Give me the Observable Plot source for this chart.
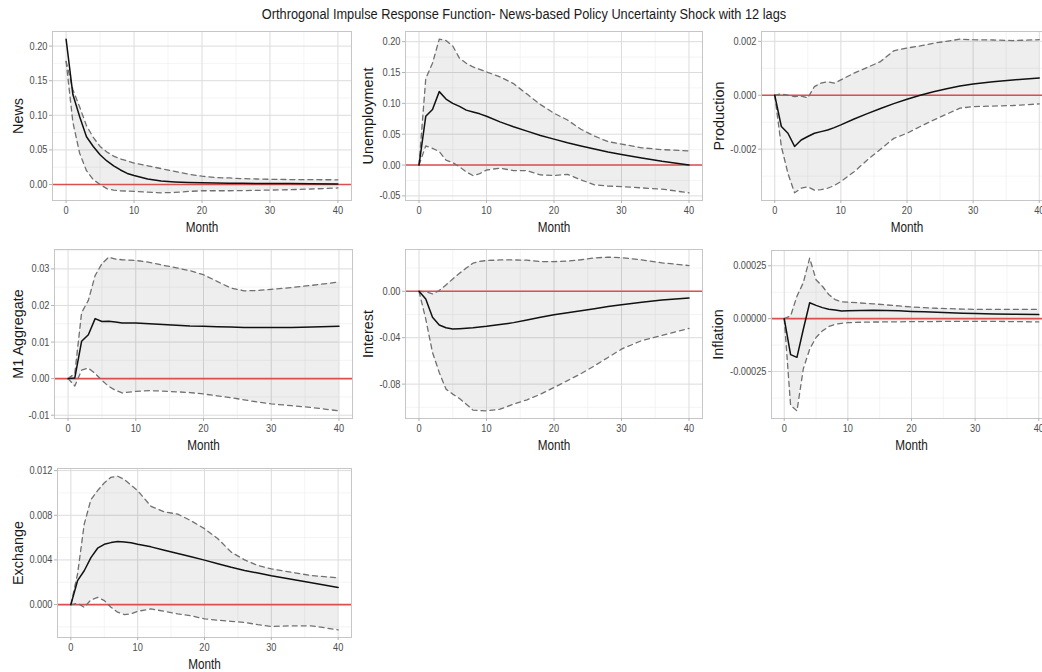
<!DOCTYPE html>
<html>
<head>
<meta charset="utf-8">
<script src="https://cdn.jsdelivr.net/npm/d3@7"></script>
<script src="https://cdn.jsdelivr.net/npm/@observablehq/plot@0.6"></script>
<style>
  html, body { margin: 0; padding: 0; background: #fff; }
  #fig { position: relative; width: 1042px; height: 672px; overflow: hidden; background: #fff; }
  #title {
    position: absolute; left: 3px; top: 6px; width: 1042px; text-align: center;
    font-family: "Liberation Sans", Arial, sans-serif;
    font-size: 14px; color: #1a1a1a; white-space: nowrap;
    transform: scaleX(0.913); transform-origin: 50% 50%;
  }
  .panel { position: absolute; }
</style>
</head>
<body>
<div id="fig">
  <div id="title">Orthrogonal Impulse Response Function- News-based Policy Uncertainty Shock with 12 lags</div>
</div>
<script>
// Forecast horizon (months after the shock)
const months = [0, 1, 2, 3, 4, 5, 6, 7, 8, 9, 10, 12, 14, 16, 18, 20, 22, 24, 26, 28, 30, 33, 36, 40];

// News
const newsMean  = [0.21, 0.13, 0.098, 0.069, 0.055, 0.043, 0.034, 0.027, 0.021, 0.016, 0.013, 0.008, 0.005, 0.0038, 0.003, 0.0025, 0.0022, 0.002, 0.0018, 0.0016, 0.0015, 0.0013, 0.0011, 0.0009];
const newsUpper = [0.178, 0.137, 0.112, 0.085, 0.068, 0.055, 0.047, 0.041, 0.037, 0.034, 0.031, 0.027, 0.023, 0.019, 0.015, 0.012, 0.010, 0.0095, 0.0085, 0.008, 0.0075, 0.0072, 0.007, 0.0068];
const newsLower = [0.178, 0.09, 0.045, 0.02, 0.007, 0.0, -0.006, -0.008, -0.009, -0.0095, -0.010, -0.011, -0.012, -0.0115, -0.010, -0.009, -0.009, -0.009, -0.0088, -0.0085, -0.008, -0.0075, -0.0065, -0.005];

// Unemployment
const unempMean  = [0, 0.079, 0.090, 0.119, 0.107, 0.100, 0.095, 0.089, 0.086, 0.083, 0.079, 0.070, 0.062, 0.055, 0.048, 0.042, 0.036, 0.031, 0.026, 0.021, 0.017, 0.0115, 0.006, 0];
const unempUpper = [0, 0.14, 0.165, 0.204, 0.202, 0.193, 0.173, 0.165, 0.159, 0.155, 0.151, 0.143, 0.132, 0.115, 0.098, 0.084, 0.073, 0.058, 0.047, 0.038, 0.034, 0.028, 0.025, 0.023];
const unempLower = [0, 0.031, 0.027, 0.022, 0.008, 0.004, -0.003, -0.011, -0.017, -0.014, -0.008, -0.005, -0.009, -0.009, -0.016, -0.017, -0.015, -0.024, -0.032, -0.034, -0.035, -0.037, -0.039, -0.045];

// Production
const prodMean  = [0, -0.00116, -0.00141, -0.0019, -0.00166, -0.00153, -0.00141, -0.00135, -0.00129, -0.0012, -0.0011, -0.00088, -0.00068, -0.00049, -0.00031, -0.00015, 0.0, 0.00013, 0.00024, 0.00034, 0.00042, 0.0005, 0.00057, 0.00064];
const prodUpper = [0, 0.00005, 0.0, -0.00005, -0.00003, -0.0001, 0.00032, 0.00045, 0.0005, 0.00045, 0.00057, 0.00082, 0.00103, 0.00125, 0.00165, 0.00175, 0.00183, 0.00193, 0.002, 0.00208, 0.00206, 0.00205, 0.00203, 0.00206];
const prodLower = [0, -0.0019, -0.0029, -0.00362, -0.00345, -0.0034, -0.00352, -0.0035, -0.00345, -0.00335, -0.0032, -0.00284, -0.0024, -0.002, -0.0016, -0.00141, -0.00116, -0.00092, -0.0007, -0.00048, -0.00042, -0.0004, -0.00038, -0.00032];

// M1 Aggregate
const m1Mean  = [0, 0.0002, 0.0102, 0.012, 0.0164, 0.0156, 0.0157, 0.0155, 0.0152, 0.0152, 0.0152, 0.015, 0.0148, 0.0146, 0.0144, 0.0143, 0.0142, 0.0141, 0.014, 0.014, 0.014, 0.014, 0.0141, 0.0143];
const m1Upper = [0, 0.0014, 0.018, 0.0214, 0.0282, 0.0314, 0.0332, 0.0327, 0.0325, 0.0324, 0.0323, 0.0318, 0.031, 0.0303, 0.0295, 0.0284, 0.0266, 0.0248, 0.024, 0.0241, 0.0244, 0.0249, 0.0255, 0.0264];
const m1Lower = [0, -0.002, 0.0023, 0.0029, 0.0014, -0.0005, -0.0021, -0.0032, -0.0039, -0.0037, -0.0035, -0.0033, -0.0034, -0.0036, -0.0038, -0.0042, -0.0047, -0.0052, -0.0058, -0.0064, -0.0069, -0.0074, -0.0079, -0.0088];

// Interest
const rateMean  = [0, -0.0066, -0.0224, -0.029, -0.0314, -0.0325, -0.0322, -0.0318, -0.0314, -0.0308, -0.0302, -0.0287, -0.027, -0.0247, -0.0224, -0.0203, -0.0184, -0.0167, -0.015, -0.0132, -0.0115, -0.0094, -0.0076, -0.0058];
const rateUpper = [0, -0.0003, -0.0023, 0.0006, 0.0055, 0.0106, 0.0155, 0.02, 0.0242, 0.0258, 0.0265, 0.027, 0.027, 0.0268, 0.0256, 0.0256, 0.026, 0.0272, 0.0288, 0.0294, 0.029, 0.027, 0.0245, 0.0222];
const rateLower = [0, -0.0239, -0.0527, -0.07, -0.0843, -0.0886, -0.0924, -0.0973, -0.1024, -0.1028, -0.103, -0.1016, -0.0973, -0.0935, -0.0887, -0.0829, -0.077, -0.071, -0.0642, -0.057, -0.0498, -0.0425, -0.038, -0.0319];

// Inflation
const inflMean  = [0, -0.00017, -0.000183, -0.00005, 0.000075, 0.0000625, 0.000052, 0.000044, 0.000041, 0.000036, 0.0000375, 0.000039, 0.00004, 0.000039, 0.000037, 0.000034, 0.000032, 0.00003, 0.000028, 0.000026, 0.000024, 0.000022, 0.000021, 0.000019];
const inflUpper = [0, 0.0000125, 0.000106, 0.00017, 0.000286, 0.000184, 0.000153, 0.000114, 0.00009, 0.00008, 0.000078, 0.000074, 0.00007, 0.000065, 0.00006, 0.000055, 0.000052, 0.000049, 0.000047, 0.000045, 0.000044, 0.000044, 0.000044, 0.000044];
const inflLower = [0, -0.00041, -0.000436, -0.000237, -0.000144, -0.000089, -0.000058, -0.0000375, -0.0000266, -0.000022, -0.000019, -0.000017, -0.000016, -0.0000155, -0.000015, -0.000014, -0.000014, -0.0000135, -0.000013, -0.000013, -0.0000125, -0.000013, -0.000014, -0.0000156];

// Exchange
const fxMean  = [0, 0.00214, 0.00303, 0.0042, 0.00505, 0.0054, 0.00555, 0.00564, 0.00561, 0.00553, 0.0054, 0.00517, 0.00487, 0.00458, 0.00428, 0.00398, 0.00366, 0.00334, 0.00306, 0.00282, 0.00258, 0.00227, 0.00196, 0.00154];
const fxUpper = [0, 0.00273, 0.0072, 0.0094, 0.0102, 0.0109, 0.0114, 0.0115, 0.0112, 0.0107, 0.0102, 0.0088, 0.0083, 0.0081, 0.0075, 0.0068, 0.0059, 0.0047, 0.004, 0.0035, 0.0032, 0.0029, 0.0026, 0.0024];
const fxLower = [0, 0.00012, -0.00024, 0.00042, 0.00065, 0.00036, -0.00024, -0.00068, -0.00089, -0.00083, -0.0006, -0.00039, -0.0006, -0.00083, -0.001, -0.00128, -0.0014, -0.0015, -0.0016, -0.0018, -0.00196, -0.0019, -0.0019, -0.00226];

// Axis tick labels
const xTicks = [0, 10, 20, 30, 40];
const newsTicks  = [0, 0.05, 0.10, 0.15, 0.20];
const unempTicks = [-0.05, 0, 0.05, 0.10, 0.15, 0.20];
const prodTicks  = [-0.002, 0, 0.002];
const m1Ticks    = [-0.01, 0, 0.01, 0.02, 0.03];
const rateTicks  = [-0.08, -0.04, 0];
const inflTicks  = [-0.00025, 0, 0.00025];
const fxTicks    = [0, 0.004, 0.008, 0.012];

const panels = [
  {label: "News",         mean: newsMean,  upper: newsUpper,  lower: newsLower,  ticks: newsTicks,  digits: 2},
  {label: "Unemployment", mean: unempMean, upper: unempUpper, lower: unempLower, ticks: unempTicks, digits: 2},
  {label: "Production",   mean: prodMean,  upper: prodUpper,  lower: prodLower,  ticks: prodTicks,  digits: 3},
  {label: "M1 Aggregate", mean: m1Mean,    upper: m1Upper,    lower: m1Lower,    ticks: m1Ticks,    digits: 2},
  {label: "Interest",     mean: rateMean,  upper: rateUpper,  lower: rateLower,  ticks: rateTicks,  digits: 2},
  {label: "Inflation",    mean: inflMean,  upper: inflUpper,  lower: inflLower,  ticks: inflTicks,  digits: 5},
  {label: "Exchange",     mean: fxMean,    upper: fxUpper,    lower: fxLower,    ticks: fxTicks,    digits: 3}
];

// Panel frames on the page (plot area edges) and the centre of each y title
const frames = [
  {left: 52,  top: 31,  right: 351,  bottom: 200, titleX: 18},
  {left: 405, top: 31,  right: 702,  bottom: 200, titleX: 368},
  {left: 761, top: 31,  right: 1052, bottom: 200, titleX: 719},
  {left: 54,  top: 249, right: 352,  bottom: 418, titleX: 18},
  {left: 405, top: 249, right: 702,  bottom: 418, titleX: 368},
  {left: 771, top: 250, right: 1051, bottom: 418, titleX: 718},
  {left: 57,  top: 468, right: 351,  bottom: 637, titleX: 18}
];

const ML = 62, MR = 10, MT = 10, MB = 42;
const font = '"Liberation Sans", Arial, sans-serif';
const fig = document.getElementById("fig");

function minorBreaks(major, domain) {
  const step = major[1] - major[0];
  const out = [];
  for (let v = major[0] - step / 2; v <= major[major.length - 1] + step; v += step) {
    if (v >= domain[0] && v <= domain[1]) out.push(v);
  }
  return out;
}

// Horizontally condense upright labels around their anchor point
function condense(svg, s) {
  svg.querySelectorAll("text").forEach(t => {
    const tr = t.getAttribute("transform") || "";
    if (tr.includes("rotate")) return;
    const x = parseFloat(t.getAttribute("x") || "0");
    t.setAttribute("x", x / s);
    t.setAttribute("transform", (tr + ` scale(${s},1)`).trim());
  });
}

panels.forEach((p, i) => {
  const f = frames[i];
  const rows = months.map((m, j) => ({month: m, mean: p.mean[j], upper: p.upper[j], lower: p.lower[j]}));
  const [lo, hi] = d3.extent([...p.mean, ...p.upper, ...p.lower, 0]);
  const pad = (hi - lo) * 0.05;
  const yDomain = [lo - pad, hi + pad];
  const xDomain = [-2, 42];
  const yMinor = minorBreaks(p.ticks, yDomain);
  const xMinor = [5, 15, 25, 35];

  const chart = Plot.plot({
    width: f.right - f.left + ML + MR,
    height: f.bottom - f.top + MT + MB,
    marginLeft: ML, marginRight: MR, marginTop: MT, marginBottom: MB,
    style: {fontFamily: font, fontSize: "11px", color: "#4d4d4d", background: "transparent", overflow: "visible"},
    x: {domain: xDomain},
    y: {domain: yDomain},
    marks: [
      Plot.gridX({ticks: xMinor, stroke: "#ececec", strokeOpacity: 1, strokeWidth: 0.6}),
      Plot.gridY({ticks: yMinor, stroke: "#ececec", strokeOpacity: 1, strokeWidth: 0.6}),
      Plot.gridX({ticks: xTicks, stroke: "#dcdcdc", strokeOpacity: 1, strokeWidth: 1}),
      Plot.gridY({ticks: p.ticks, stroke: "#dcdcdc", strokeOpacity: 1, strokeWidth: 1}),
      Plot.areaY(rows, {x: "month", y1: "lower", y2: "upper", fill: "#000", fillOpacity: 0.065}),
      Plot.ruleY([0], {stroke: "#dd4f4f", strokeWidth: 1.6}),
      Plot.lineY(rows, {x: "month", y: "upper", stroke: "#707070", strokeWidth: 1.3, strokeDasharray: "5,4"}),
      Plot.lineY(rows, {x: "month", y: "lower", stroke: "#707070", strokeWidth: 1.3, strokeDasharray: "5,4"}),
      Plot.lineY(rows, {x: "month", y: "mean", stroke: "#111", strokeWidth: 1.5}),
      Plot.frame({stroke: "#c6c6c6", strokeOpacity: 1}),
      Plot.axisX({ticks: xTicks, tickFormat: d => String(d), tickSize: 3, tickPadding: 3, stroke: "#b3b3b3", fill: "#4d4d4d", label: null}),
      Plot.axisY({ticks: p.ticks, tickFormat: d => d.toFixed(p.digits), tickSize: 3, tickPadding: 2, stroke: "#b3b3b3", fill: "#4d4d4d", label: null}),
      Plot.text(["Month"], {frameAnchor: "bottom", lineAnchor: "middle", dy: 27, fontSize: 14, fill: "#1a1a1a"}),
      Plot.text([p.label], {frameAnchor: "left", textAnchor: "middle", rotate: -90, dx: f.titleX - f.left, fontSize: 14.4, fill: "#1a1a1a"})
    ]
  });
  condense(chart, 0.84);
  chart.classList.add("panel");
  chart.style.left = (f.left - ML) + "px";
  chart.style.top = (f.top - MT) + "px";
  fig.appendChild(chart);
});
</script>
</body>
</html>
